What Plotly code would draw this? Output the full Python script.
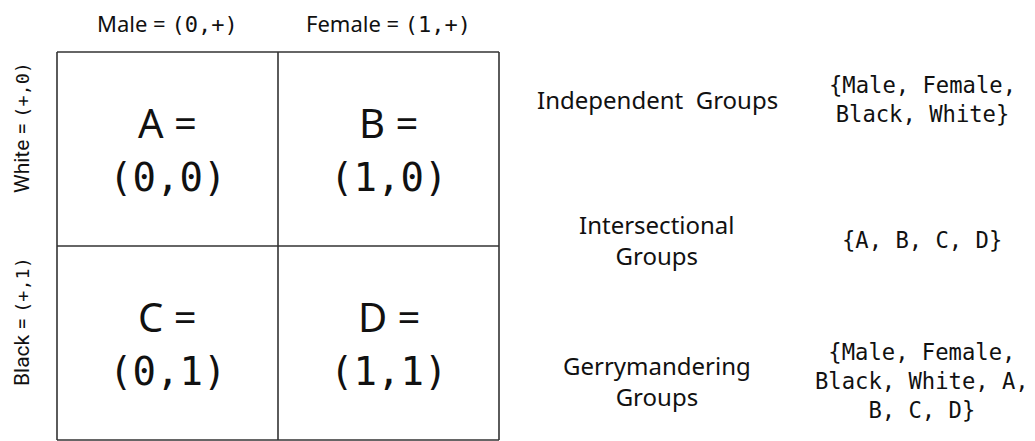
import plotly.graph_objects as go

# ---- data ----
col_names = ["Male", "Female"]
col_codes = ["(0,+)", "(1,+)"]
row_names = ["White", "Black"]
row_codes = ["(+,0)", "(+,1)"]
cell_letters = [["A", "B"], ["C", "D"]]
cell_codes = [["(0,0)", "(1,0)"], ["(0,1)", "(1,1)"]]
group_names = ["Independent\u00a0 Groups", "Intersectional<br>Groups", "Gerrymandering<br>Groups"]
group_members = ["{Male, Female,<br>Black, White}", "{A, B, C, D}",
                 "{Male, Female,<br>Black, White, A,<br>B, C, D}"]

SANS = "Noto Sans, Inter, sans-serif"
NARROW = "Roboto, Noto Sans, sans-serif"
MONO = "DejaVu Sans Mono, monospace"
INK = "#111111"

# page body has an 8px margin; size the figure to fill the window exactly
OFF = 8
W, H = 1035 - OFF, 441 - OFF
# pixel mapping of the grid (window coordinates minus the page margin)
GX0, GX1 = 57 - OFF, 499 - OFF
GY0, GY1 = 52 - OFF, 440 - OFF
ncol, nrow = len(col_names), len(row_names)
sx = (GX1 - GX0) / ncol
sy = (GY1 - GY0) / nrow
x_range = [-GX0 / sx, (W - GX0) / sx]
y_range = [(H - GY0) / sy, -GY0 / sy]

fig = go.Figure()

# grid lines
gx, gy = [], []
for i in range(ncol + 1):
    gx += [i, i, None]
    gy += [0, nrow, None]
for j in range(nrow + 1):
    gx += [0, ncol, None]
    gy += [j, j, None]
fig.add_trace(go.Scatter(x=gx, y=gy, mode="lines",
                         line=dict(color="#333333", width=1.6),
                         hoverinfo="skip", showlegend=False))

ann = []
def mono(s, size=None):
    st = f"font-family:{MONO}"
    if size:
        st += f";font-size:{size}px"
    return f'<span style="{st}">{s}</span>'

# column headers
for i, (n, c) in enumerate(zip(col_names, col_codes)):
    ann.append(dict(x=i + 0.5, y=-29 / sy, text=f"{n} = {mono(c)}",
                    font=dict(family=SANS, size=22, color=INK)))
# row headers (rotated)
for j, (n, c) in enumerate(zip(row_names, row_codes)):
    ann.append(dict(x=-35 / sx, y=j + 0.5 - 21 / sy, text=f"{n} = {mono(c, 18.5)}",
                    textangle=-90, font=dict(family=NARROW, size=21, color=INK)))
# cells
for j in range(nrow):
    for i in range(ncol):
        ann.append(dict(x=i + 0.5, y=j + 0.5, yshift=27,
                        text=f"{cell_letters[j][i]} =",
                        font=dict(family=SANS, size=40, color=INK)))
        ann.append(dict(x=i + 0.5, y=j + 0.5, yshift=-28,
                        text=cell_codes[j][i],
                        font=dict(family=MONO, size=39, color=INK)))
# groups on the right
for k, (n, m) in enumerate(zip(group_names, group_members)):
    yk = (99 - 52) / sy + k * (141 / sy)
    ann.append(dict(x=(657 - 57) / sx, y=yk, text=n,
                    font=dict(family=SANS, size=24, color=INK)))
    ann.append(dict(x=(922 - 57) / sx, y=yk, text=m,
                    font=dict(family=MONO, size=22.2, color=INK)))

for a in ann:
    a.update(xref="x", yref="y", showarrow=False, xanchor="center", yanchor="middle")

fig.update_layout(
    width=W, height=H, margin=dict(l=0, r=0, t=0, b=0),
    paper_bgcolor="white", plot_bgcolor="white",
    xaxis=dict(range=x_range, visible=False, fixedrange=True),
    yaxis=dict(range=y_range, visible=False, fixedrange=True),
    annotations=ann, showlegend=False,
)
fig.write_html("out.html")
